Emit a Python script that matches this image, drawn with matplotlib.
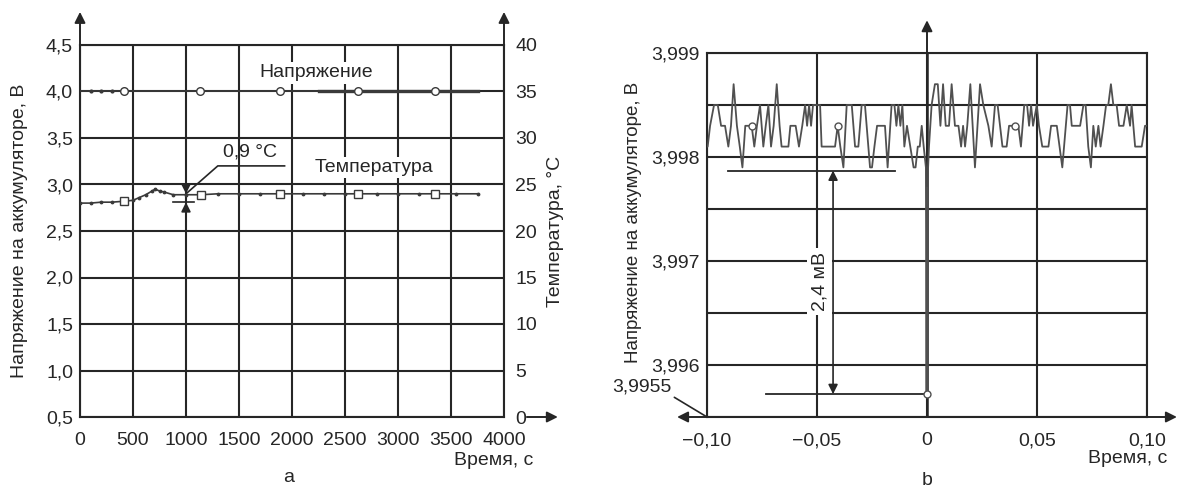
import numpy as np
import matplotlib.pyplot as plt

plt.rcParams['font.family'] = ['Liberation Sans', 'DejaVu Sans']

# ---- a: напряжение и температура, время в секундах
t_volt = [0, 100, 200, 300, 415, 800, 1132, 1500, 1887, 2250, 2623, 3000, 3349, 3750]
volt = [4.00, 4.00, 4.00, 4.00, 4.00, 4.00, 4.00, 4.00, 4.00, 4.00, 4.00, 4.00, 4.00, 4.00]
volt_circles = [4, 6, 8, 10, 12]

t_temp = [0, 100, 200, 300, 415, 500, 560, 620, 680, 710, 750, 790, 880, 1000, 1142,
          1300, 1500, 1700, 1887, 2100, 2300, 2500, 2623, 2800, 3000, 3200, 3349, 3550, 3750]
temp = [23.0, 23.0, 23.1, 23.1, 23.2, 23.3, 23.6, 23.9, 24.3, 24.5, 24.3, 24.2, 23.9, 23.9, 23.9,
        24.0, 24.0, 24.0, 24.0, 24.0, 24.0, 24.0, 24.0, 24.0, 24.0, 24.0, 24.0, 24.0, 24.0]
temp_squares = [4, 14, 18, 22, 26]

xticks_a = [0, 500, 1000, 1500, 2000, 2500, 3000, 3500, 4000]
yticks_a = [0.5, 1.0, 1.5, 2.0, 2.5, 3.0, 3.5, 4.0, 4.5]
ylabels_a = ['0,5', '1,0', '1,5', '2,0', '2,5', '3,0', '3,5', '4,0', '4,5']
yticks_t = [0, 5, 10, 15, 20, 25, 30, 35, 40]

# ---- b: напряжение вокруг момента t = 0, время в мс
t_ms = [-100.0, -99.7, -98.6, -96.8, -95.1, -93.6, -91.8, -90.3, -89.1, -87.9, -86.4, -85.1,
        -83.9, -82.6, -79.7, -78.5, -77.3, -75.9, -74.4, -73.3, -72.1, -70.9, -69.7, -68.3,
        -67.0, -66.1, -63.0, -62.1, -59.7, -58.2, -56.7, -55.4, -54.5, -53.6, -52.7, -51.8,
        -50.9, -48.6, -47.9, -41.8, -40.6, -39.4, -38.0, -36.5, -34.2, -32.7, -31.2, -29.7,
        -28.2, -26.7, -25.9, -25.0, -23.9, -22.7, -19.1, -17.9, -16.1, -14.8, -13.9, -13.0,
        -12.1, -11.2, -10.3, -9.1, -7.6, -6.1, -5.2, -4.2, -3.3, -2.4, -1.5, -0.5,
        -0.2, 0.0, 0.2, 0.5,
        0.9, 2.1, 3.6, 4.9, 6.1, 7.3, 8.5, 10.0, 11.2, 12.7, 14.3, 15.5, 16.4, 17.3, 18.3,
        19.7, 21.8, 24.1, 25.6, 27.9, 29.4, 30.9, 32.1, 34.3, 36.2, 37.3, 40.0, 41.5, 42.7,
        44.2, 45.5, 46.4, 47.3, 48.2, 49.9, 50.9, 52.4, 55.2, 56.4, 59.0, 61.5, 63.9, 65.0,
        65.8, 69.6, 71.1, 72.1, 73.3, 74.5, 75.6, 76.7, 77.9, 78.9, 80.2, 81.4, 82.4, 83.6,
        84.7, 86.2, 87.3, 89.3, 90.8, 92.3, 93.0, 94.6, 97.6, 99.1, 100.0]
v_bat = [3.9981, 3.9981, 3.9983, 3.9985, 3.9985, 3.9983, 3.9983, 3.9981, 3.9983, 3.9987, 3.9983, 3.9981,
         3.9979, 3.9983, 3.9983, 3.9981, 3.9983, 3.9985, 3.9981, 3.9983, 3.9985, 3.9981, 3.9983, 3.9987,
         3.9983, 3.9981, 3.9981, 3.9983, 3.9983, 3.9981, 3.9983, 3.9985, 3.9983, 3.9985, 3.9983, 3.9985,
         3.9985, 3.9985, 3.9981, 3.9981, 3.9983, 3.9981, 3.9979, 3.9985, 3.9985, 3.9981, 3.9981, 3.9985,
         3.9985, 3.9981, 3.9979, 3.9979, 3.9981, 3.9983, 3.9983, 3.9979, 3.9985, 3.9985, 3.9983, 3.9985,
         3.9983, 3.9985, 3.9981, 3.9983, 3.9981, 3.9979, 3.9979, 3.9981, 3.9981, 3.9983, 3.9981, 3.9979,
         3.99572, 3.9977, 3.99575, 3.9979,
         3.9981, 3.9985, 3.9987, 3.9987, 3.9983, 3.9987, 3.9983, 3.9983, 3.9987, 3.9983, 3.9983, 3.9981, 3.9983, 3.9981, 3.9983,
         3.9987, 3.9979, 3.9987, 3.9985, 3.9983, 3.9981, 3.9985, 3.9985, 3.9981, 3.9981, 3.9983, 3.9983, 3.9983, 3.9981,
         3.9985, 3.9985, 3.9983, 3.9985, 3.9983, 3.9985, 3.9983, 3.9981, 3.9981, 3.9983, 3.9983, 3.9979, 3.9985, 3.9985,
         3.9983, 3.9983, 3.9985, 3.9985, 3.9981, 3.9979, 3.9983, 3.9981, 3.9983, 3.9981, 3.9983, 3.9985, 3.9985, 3.9987,
         3.9985, 3.9985, 3.9983, 3.9983, 3.9985, 3.9983, 3.9985, 3.9981, 3.9981, 3.9983, 3.9983]
circle_ms = [-79.7, -40.6, -0.2, 40.0]

xticks_b = [-0.10, -0.05, 0, 0.05, 0.10]
xlabels_b = ['\u22120,10', '\u22120,05', '0', '0,05', '0,10']
yticks_b = [3.9955, 3.996, 3.9965, 3.997, 3.9975, 3.998, 3.9985, 3.999]
ylabels_b = ['', '3,996', '', '3,997', '', '3,998', '', '3,999']

W, H = 1181, 490
ink = '#262626'
fs = 14

fig = plt.figure(figsize=(W / 100, H / 100), dpi=100)

def arrow(ax, start, end):
    ax.annotate('', xy=end, xytext=start, xycoords='axes fraction',
                arrowprops=dict(arrowstyle='-|>', color=ink, lw=1.4,
                                mutation_scale=16, shrinkA=0, shrinkB=0))

# ================= panel a =================
ax1 = fig.add_axes([80 / W, 1 - 417 / H, 424 / W, 372 / H])
ax1.set_xlim(0, 4000)
ax1.set_ylim(0.5, 4.5)
ax1.set_xticks(xticks_a)
ax1.set_xticklabels([str(x) for x in xticks_a])
ax1.set_yticks(yticks_a)
ax1.set_yticklabels(ylabels_a)
ax1.tick_params(length=0, labelsize=fs, colors=ink)
ax1.tick_params(axis='x', pad=11)
ax1.tick_params(axis='y', pad=5)
ax1.grid(True, color=ink, lw=1.5)
for s in ax1.spines.values():
    s.set_color(ink)
    s.set_linewidth(1.5)

ax1.plot(t_volt, volt, color='#3a3a3a', lw=1.2, marker='.', ms=4,
         markevery=[1, 2, 3], zorder=3)
ax1.plot(t_volt[9:], volt[9:], color='#3a3a3a', lw=2.4, zorder=3)
ax1.plot(np.array(t_volt)[volt_circles], np.array(volt)[volt_circles], ls='none',
         marker='o', ms=5.5, mfc='white', mec='#3a3a3a', mew=1.0, zorder=4)

ax2 = ax1.twinx()
ax2.set_ylim(0, 40)
ax2.set_yticks(yticks_t)
ax2.set_yticklabels([str(y) for y in yticks_t])
ax2.tick_params(length=0, labelsize=fs, colors=ink, pad=8)
for s in ax2.spines.values():
    s.set_visible(False)

ax2.plot(t_temp, temp, color='#3a3a3a', lw=1.2, marker='.', ms=3.5, zorder=3)
ax2.plot(np.array(t_temp)[temp_squares], np.array(temp)[temp_squares], ls='none',
         marker='s', ms=5.5, mfc='white', mec='#3a3a3a', mew=1.0, zorder=4)

# 0,9 °C
ax2.plot([880, 1080], [23.1, 23.1], color=ink, lw=1.2)
ax2.annotate('', xy=(1000, 24.0), xytext=(1000, 27.4),
             arrowprops=dict(arrowstyle='-|>', color=ink, lw=1.2, mutation_scale=14,
                             shrinkA=0, shrinkB=0))
ax2.annotate('', xy=(1000, 23.1), xytext=(1000, 20.0),
             arrowprops=dict(arrowstyle='-|>', color=ink, lw=1.2, mutation_scale=14,
                             shrinkA=0, shrinkB=0))
ax2.plot([1000, 1300, 1930], [24.0, 27.0, 27.0], color=ink, lw=1.2)
ax2.text(1600, 28.5, '0,9 °C', fontsize=fs, color=ink, ha='center', va='center')

ax1.text(2226, 4.2, 'Напряжение', fontsize=fs, color=ink, ha='center', va='center',
         bbox=dict(fc='white', ec='none', pad=1.5), zorder=5)
ax1.text(2774, 3.18, 'Температура', fontsize=fs, color=ink, ha='center', va='center',
         bbox=dict(fc='white', ec='none', pad=1.5), zorder=5)

arrow(ax1, (0, 1.0), (0, 1.089))
arrow(ax1, (1.0, 1.0), (1.0, 1.089))
arrow(ax1, (1.054, 0), (1.127, 0))

fig.text(533 / W, 1 - 460 / H, 'Время, с', fontsize=fs, color=ink, ha='right', va='center')
fig.text(289 / W, 1 - 477 / H, 'a', fontsize=fs, color=ink, ha='center', va='center')
fig.text(20 / W, 1 - 231 / H, 'Напряжение на аккумуляторе, В', fontsize=fs, color=ink,
         rotation=90, ha='center', va='center')
fig.text(555 / W, 1 - 231 / H, 'Температура, °C', fontsize=fs, color=ink,
         rotation=90, ha='center', va='center')

# ================= panel b =================
ax3 = fig.add_axes([707 / W, 1 - 417 / H, 440 / W, 364 / H])
ax3.set_xlim(-0.1, 0.1)
ax3.set_ylim(3.9955, 3.999)
ax3.set_xticks(xticks_b)
ax3.set_xticklabels(xlabels_b)
ax3.set_yticks(yticks_b)
ax3.set_yticklabels(ylabels_b)
ax3.tick_params(length=0, labelsize=fs, colors=ink)
ax3.tick_params(axis='x', pad=11)
ax3.tick_params(axis='y', pad=5)
ax3.grid(True, color=ink, lw=1.5)
for s in ax3.spines.values():
    s.set_color(ink)
    s.set_linewidth(1.5)
ax3.axvline(0, color=ink, lw=1.8, zorder=2)

t_s = np.array(t_ms) / 1000.0
ax3.plot(t_s, v_bat, color='#505050', lw=1.3, zorder=3)
idx = [t_ms.index(c) for c in circle_ms]
ax3.plot(t_s[idx], np.array(v_bat)[idx], ls='none', marker='o', ms=5,
         mfc='white', mec='#505050', mew=1.0, zorder=4)

# 2,4 мВ
ax3.plot([-0.0905, -0.0145], [3.99787, 3.99787], color=ink, lw=1.3, zorder=3)
ax3.plot([-0.073, -0.0012], [3.99572, 3.99572], color=ink, lw=1.3, zorder=3)
ax3.annotate('', xy=(-0.0427, 3.99787), xytext=(-0.0427, 3.99572),
             arrowprops=dict(arrowstyle='<|-|>', color=ink, lw=1.2, mutation_scale=14,
                             shrinkA=0, shrinkB=0), zorder=3)
ax3.text(-0.0487, 3.9968, '2,4 мВ', fontsize=fs, color=ink, rotation=90,
         ha='center', va='center', bbox=dict(fc='white', ec='none', pad=3), zorder=5)

ax3.annotate('3,9955', xy=(0, 0), xytext=(-0.148, 0.082), xycoords='axes fraction',
             fontsize=fs, color=ink, ha='center', va='center',
             arrowprops=dict(arrowstyle='-', color=ink, lw=1.2, relpos=(1, 0),
                             shrinkA=0, shrinkB=0))

arrow(ax3, (0.5, 1.0), (0.5, 1.09))
arrow(ax3, (1.0, 0), (1.068, 0))
arrow(ax3, (0, 0), (-0.068, 0))

fig.text(1167 / W, 1 - 458 / H, 'Время, с', fontsize=fs, color=ink, ha='right', va='center')
fig.text(927 / W, 1 - 480 / H, 'b', fontsize=fs, color=ink, ha='center', va='center')
fig.text(633 / W, 1 - 222 / H, 'Напряжение на аккумуляторе, В', fontsize=13.5, color=ink,
         rotation=90, ha='center', va='center')

fig.savefig('out.png', dpi=100)
